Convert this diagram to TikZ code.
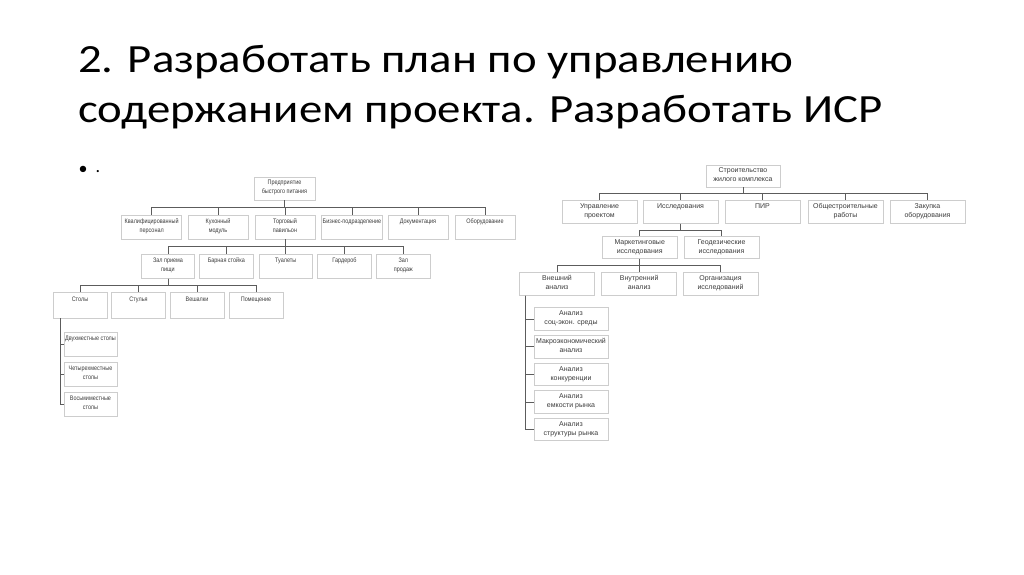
\documentclass[tikz,border=0pt]{standalone}
\usepackage{fontspec}
\setmainfont{Carlito}
\newfontfamily\titlefont{Carlito}[FakeStretch=1.17]
\newfontfamily\boxfont{Liberation Sans}
\newfontfamily\narrowfont{Liberation Sans}[FakeStretch=0.84]
\usepackage{tikz}
\usetikzlibrary{calc}
\definecolor{boxline}{HTML}{CDCDCD}
\definecolor{linkgray}{HTML}{5C5C5C}
\definecolor{txtgray}{HTML}{3C3C3C}
\tikzset{
    mybox/.style={draw=boxline,line width=0.8pt,fill=white,inner sep=1pt,align=center,text=txtgray,
        execute at begin node=\strut,execute at end node=\strut},
    myleft/.style={mybox,font=\narrowfont\fontsize{6.5}{9.3}\selectfont,minimum width=60pt,minimum height=24pt},
    myright/.style={mybox,font=\boxfont\fontsize{7}{9}\selectfont,minimum width=75pt,minimum height=22.5pt},
    mylink/.style={draw=linkgray,line width=0.9pt},
    mytitle/.style={anchor=base west,font=\titlefont\fontsize{40}{50}\selectfont,inner sep=0pt,text=black}
}

\begin{document}
\begin{tikzpicture}[x=1pt,y=-1pt]
    \useasboundingbox[fill=white] (0,0) rectangle (1024,574);

    % 标题
    \node[mytitle] (H1) at (78,72.3) {2. Разработать план по управлению};
    \node[mytitle] (H2) at (78,122.3) {содержанием проекта. Разработать ИСР};
    \node[font=\fontsize{18}{18}\selectfont,inner sep=0pt] (dot1) at (83,170) {•};
    \node[font=\fontsize{18}{18}\selectfont,inner sep=0pt] (dot2) at (98,172) {.};

    % 左侧树
    \node[myleft,minimum width=61pt,minimum height=23pt] (A) at (284.5,188.5) {Предприятие\\быстрого питания};
    \node[myleft] (A1) at (151.7,227) {Квалифицированный\\персонал};
    \node[myleft] (A2) at (218,227) {Кухонный\\модуль};
    \node[myleft] (A3) at (285,227) {Торговый\\павильон};
    \node[myleft] (A4) at (352,227) {Бизнес-подразделение\\\mbox{}};
    \node[myleft] (A5) at (418,227) {Документация\\\mbox{}};
    \node[myleft] (A6) at (485,227) {Оборудование\\\mbox{}};

    \node[myleft,minimum width=53.5pt] (B1) at (168,266.3) {Зал приема\\пищи};
    \node[myleft,minimum width=53.5pt] (B2) at (226.3,266.3) {Барная стойка\\\mbox{}};
    \node[myleft,minimum width=53.5pt] (B3) at (285.8,266.3) {Туалеты\\\mbox{}};
    \node[myleft,minimum width=53.5pt] (B4) at (344.5,266.3) {Гардероб\\\mbox{}};
    \node[myleft,minimum width=53.5pt] (B5) at (403.3,266.3) {Зал\\продаж};

    \node[myleft,minimum width=54pt,minimum height=26pt] (C1) at (80,305) {Столы\\\mbox{}};
    \node[myleft,minimum width=54pt,minimum height=26pt] (C2) at (138.5,305) {Стулья\\\mbox{}};
    \node[myleft,minimum width=54pt,minimum height=26pt] (C3) at (197,305) {Вешалки\\\mbox{}};
    \node[myleft,minimum width=54pt,minimum height=26pt] (C4) at (256,305) {Помещение\\\mbox{}};

    \node[myleft,minimum width=53pt] (D1) at (90.5,344) {Двухместные столы\\\mbox{}};
    \node[myleft,minimum width=53pt] (D2) at (90.5,374) {Четырехместные\\столы};
    \node[myleft,minimum width=53pt] (D3) at (90.5,404) {Восьмиместные\\столы};

    % 左侧连线
    \foreach \c in {A1,A2,A3,A4,A5,A6}
        \draw[mylink] (A.south) |- ($(A.south)!0.5!(\c.north)$) -| (\c.north);
    \foreach \c in {B1,B2,B3,B4,B5}
        \draw[mylink] (A3.south) |- ($(A3.south)!0.5!(\c.north)$) -| (\c.north);
    \foreach \c in {C1,C2,C3,C4}
        \draw[mylink] (B1.south) |- ($(B1.south)!0.5!(\c.north)$) -| (\c.north);
    \foreach \c in {D1,D2,D3}
        \draw[mylink] ([xshift=7.7pt]C1.south west) |- (\c.west);

    % 右侧树
    \node[myright,minimum width=74pt,minimum height=22pt] (R) at (743,176) {Строительство\\жилого комплекса};
    \node[myright] (R1) at (599.5,212) {Управление\\проектом};
    \node[myright] (R2) at (680.5,212) {Исследования\\\mbox{}};
    \node[myright] (R3) at (762.5,212) {ПИР\\\mbox{}};
    \node[myright] (R4) at (845.5,212) {Общестроительные\\работы};
    \node[myright] (R5) at (927.5,212) {Закупка\\оборудования};

    \node[myright,minimum height=21.7pt] (S1) at (639.7,247.5) {Маркетинговые\\исследования};
    \node[myright,minimum height=21.7pt] (S2) at (721.5,247.5) {Геодезические\\исследования};

    \node[myright] (T1) at (557,284) {Внешний\\анализ};
    \node[myright] (T2) at (639.2,284) {Внутренний\\анализ};
    \node[myright] (T3) at (720.5,284) {Организация\\исследований};

    \node[myright,minimum width=74pt] (U1) at (571,319) {Анализ\\соц-экон. среды};
    \node[myright,minimum width=74pt] (U2) at (571,346.7) {Макроэкономический\\анализ};
    \node[myright,minimum width=74pt] (U3) at (571,374.5) {Анализ\\конкуренции};
    \node[myright,minimum width=74pt] (U4) at (571,402) {Анализ\\емкости рынка};
    \node[myright,minimum width=74pt] (U5) at (571,429.5) {Анализ\\структуры рынка};

    % 右侧连线
    \foreach \c in {R1,R2,R3,R4,R5}
        \draw[mylink] (R.south) |- ($(R.south)!0.5!(\c.north)$) -| (\c.north);
    \foreach \c in {S1,S2}
        \draw[mylink] (R2.south) |- ($(R2.south)!0.5!(\c.north)$) -| (\c.north);
    \foreach \c in {T1,T2,T3}
        \draw[mylink] (S1.south) |- ($(S1.south)!0.5!(\c.north)$) -| (\c.north);
    \foreach \c in {U1,U2,U3,U4,U5}
        \draw[mylink] ([xshift=6.7pt]T1.south west) |- (\c.west);
\end{tikzpicture}
\end{document}
